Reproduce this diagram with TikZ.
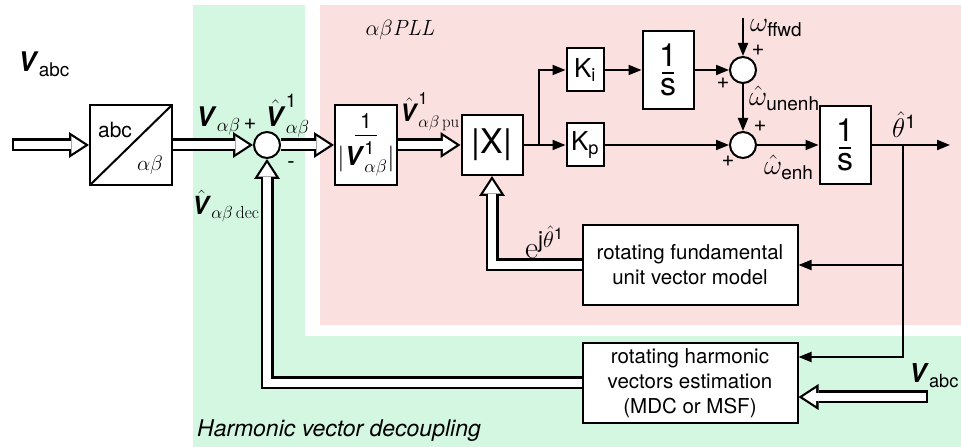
\RequirePackage{fix-cm}
\documentclass[tikz,border=0pt]{standalone}
\usepackage{amsmath}
\usepackage{fontspec}
\setsansfont{TeX Gyre Heros}
\renewcommand{\familydefault}{\sfdefault}
\usepackage{tikz}
\usetikzlibrary{arrows.meta,positioning}
\definecolor{decgreen}{RGB}{212,247,226}
\definecolor{pllred}{RGB}{250,224,222}
\newcommand{\vv}{\textbf{\textit{V}}}
\newcommand{\fsz}[1]{\fontsize{#1}{#1}\selectfont}
\newcommand{\barfrac}[3]{\vbox{\offinterlineskip\halign{\hfil##\hfil\cr#1\cr\noalign{\kern6pt}\rule{#3}{1.2pt}\cr\noalign{\kern5pt}#2\cr}}}

\begin{document}
\begin{tikzpicture}[x=1pt, y=1pt, on grid, node distance=100pt,
    blk/.style={rectangle,draw,fill=white,line width=2pt,inner sep=0pt,align=center},
    sumpt/.style={circle,draw,fill=white,line width=2pt,minimum size=26pt,inner sep=0pt},
    lbl/.style={inner sep=0pt,font=\fsz{27}},
    sgn/.style={inner sep=0pt,font=\fsz{22}},
    arrow/.style={line width=2pt,-{Triangle[length=13pt,width=10pt]}},
    hollow/.style={line width=13pt,-{Triangle[length=20pt,width=26pt,line width=0pt]},
      postaction={draw=white,line width=8.5pt,shorten <=#1,shorten >=4.1pt,
        -{Triangle[length=13.6pt,width=17.7pt,line width=0pt,color=white]}}},
    hollow/.default=0pt]
  \useasboundingbox (0,0) rectangle (961,447);
  % regions
  \fill[decgreen] (193,0) rectangle (961,442);
  \fill[white] (305,111) rectangle (961,447);
  \fill[pllred] (320,122) rectangle (961,442);

  % blocks
  \node[blk,minimum width=82pt,minimum height=80pt] (conv) at (131,302) {};
  \node[sumpt,right=136pt of conv] (sum1) {};
  \node[blk,minimum width=62pt,minimum height=80pt,right=99pt of sum1] (inv)
    {\barfrac{\fsz{21}1}{\fsz{26}$|\text{\vv}^{\text{1}}_{\alpha\beta}|$}{22pt}};
  \node[blk,minimum width=61pt,minimum height=60pt,font=\fsz{34},right=126pt of inv] (absx) {|X|};
  \node[blk,minimum width=37pt,minimum height=43pt,font=\fsz{26},right=93pt of absx] (kp) {K$_{\text{p}}$};
  \node[blk,minimum width=37pt,minimum height=43pt,font=\fsz{26},above=75pt of kp] (ki) {K$_{\text{i}}$};
  \node[blk,minimum width=51pt,minimum height=78pt,font=\fsz{32},right=83pt of ki] (integ1) {\barfrac{1}{s}{12pt}};
  \node[sumpt,right=75pt of integ1] (sum2) {};
  \node[sumpt,below=75pt of sum2] (sum3) {};
  \node[blk,minimum width=51pt,minimum height=78pt,font=\fsz{32},right=102pt of sum3] (integ2) {\barfrac{1}{s}{12pt}};
  \node[blk,minimum width=215pt,minimum height=80pt,font=\fontsize{20.5}{25}\selectfont] (fund) at (690,182)
    {rotating fundamental\\unit vector model};
  \node[blk,minimum width=215pt,minimum height=80pt,font=\fontsize{20.5}{25}\selectfont,below=118pt of fund] (harm)
    {rotating harmonic\\vectors estimation\\(MDC or MSF)};
  \draw[line width=2pt,shorten <=1.3pt,shorten >=1.3pt] (conv.south west) -- (conv.north east);

  % free ends and branch points
  \coordinate[left=119pt of conv] (vin1);
  \coordinate[right=47pt of absx] (brk);
  \coordinate[right=58pt of integ2] (brth);
  \coordinate[right=105pt of integ2] (yout);
  \coordinate[above=52pt of sum2] (ffwd);
  \coordinate[below right=14pt and 238pt of harm] (vin2);

  % vector signals
  \draw[hollow=2pt] (vin1) -- (conv);
  \draw[hollow] (conv) -- (sum1);
  \draw[hollow] (sum1) -- (inv);
  \draw[hollow] (inv) -- (absx);
  \draw[hollow] (fund.west) -| (absx.south);
  \draw[hollow] (harm.west) -| (sum1.south);
  \draw[hollow=2pt] (vin2) -- (vin2 -| harm.east);

  % scalar signals
  \draw[arrow] (absx) -- (brk) |- (ki);
  \draw[arrow] (brk) -- (kp);
  \draw[arrow] (ki) -- (integ1);
  \draw[arrow] (integ1) -- (sum2);
  \draw[arrow] (ffwd) -- (sum2);
  \draw[arrow] (sum2) -- (sum3);
  \draw[arrow] (kp) -- (sum3);
  \draw[arrow] (sum3) -- (integ2);
  \draw[arrow] (integ2) -- (yout);
  \draw[arrow] (brth) |- (fund);
  \draw[arrow] (brth) |- ([yshift=26pt]harm.east);

  % labels
  \node[font=\fsz{21}] (abctxt) at (115,317) {abc};
  \node[font=\fsz{21}] (abtxt) at (150,282) {$\alpha\beta$};
  \node[lbl,anchor=base west] (vabcl) at (18,375) {$\text{\vv}_{\text{abc}}$};
  \node[lbl,anchor=base west] (vab) at (196,320) {$\text{\vv}_{\alpha\beta}$};
  \node[sgn] (p1) at (250,323) {+};
  \node[lbl,anchor=base west] (vhat) at (265,320) {$\hat{\text{\vv}}^{\text{1}}_{\alpha\beta}$};
  \node[sgn] (m1) at (291,282) {-};
  \node[lbl,anchor=base west,font=\fsz{25}] (vdec) at (192,232) {$\hat{\text{\vv}}_{\alpha\beta\,\textrm{dec}}$};
  \node[lbl,anchor=base west,font=\fsz{24}] (vpu) at (400,325) {$\hat{\text{\vv}}^{\text{1}}_{\alpha\beta\,\textrm{pu}}$};
  \node[font=\fsz{22}] (pll) at (400,417) {$\alpha\beta\mathit{PLL}$};
  \node[lbl,anchor=base west,font=\fsz{28}] (wff) at (750,415) {$\omega_{\text{\fsz{19}ffwd}}$};
  \node[sgn] (p2) at (758,397) {+};
  \node[sgn] (p3) at (723,364) {+};
  \node[lbl,anchor=base west,font=\fsz{28}] (wun) at (749,341) {$\hat{\omega}_{\text{\fsz{19}unenh}}$};
  \node[sgn] (p4) at (760,321) {+};
  \node[sgn] (p5) at (728,286) {+};
  \node[lbl,anchor=base west,font=\fsz{28}] (wen) at (764,272) {$\hat{\omega}_{\text{\fsz{19}enh}}$};
  \node[lbl,anchor=base west] (th) at (892,309) {$\hat{\theta}^{\text{1}}$};
  \node[lbl,anchor=base west,font=\fsz{32}] (ejt) at (525,188) {$\textrm{e}^{\text{j}\hat{\theta}^{\text{1}}}$};
  \node[lbl,anchor=base west,font=\fsz{26}] (vabcr) at (909,64) {$\text{\vv}_{\text{abc}}$};
  \node[anchor=base west,inner sep=0pt,font=\fsz{23}\itshape] (hvd) at (197,10) {Harmonic vector decoupling};
\end{tikzpicture}
\end{document}
